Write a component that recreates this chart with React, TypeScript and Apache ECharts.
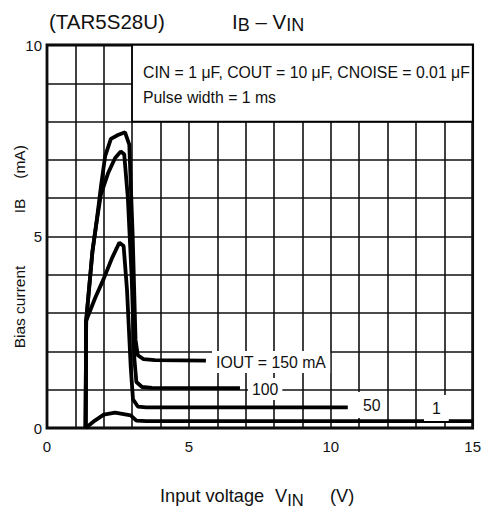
import React, { useEffect, useRef } from "react";
import * as echarts from "echarts";

// Input voltage VIN (V) vs bias current IB (mA)
const iout150: number[][] = [
  [1.36, 0], [1.38, 2.8], [1.6, 4.6], [1.75, 5.4], [1.9, 6.3], [2.05, 7.1],
  [2.25, 7.55], [2.5, 7.65], [2.75, 7.72], [2.9, 7.4], [3.02, 5.0],
  [3.12, 2.3], [3.2, 1.9], [3.4, 1.8], [3.8, 1.77], [5.6, 1.76],
];
const iout100: number[][] = [
  [1.36, 0], [1.38, 2.8], [1.6, 4.6], [1.75, 5.4], [1.9, 6.1], [2.15, 6.65],
  [2.4, 7.05], [2.6, 7.22], [2.72, 7.15], [2.85, 6.0], [2.98, 4.0],
  [3.08, 1.8], [3.15, 1.2], [3.35, 1.07], [3.7, 1.05], [6.8, 1.04],
];
const iout50: number[][] = [
  [1.36, 0], [1.38, 2.8], [1.7, 3.4], [2.0, 3.9], [2.3, 4.45], [2.55, 4.84],
  [2.7, 4.75], [2.82, 3.6], [2.95, 1.6], [3.03, 0.75], [3.2, 0.56],
  [3.5, 0.54], [10.6, 0.54],
];
const iout1: number[][] = [
  [1.36, 0], [1.7, 0.2], [2.0, 0.35], [2.4, 0.4], [2.95, 0.33], [3.15, 0.19],
  [3.5, 0.18], [15, 0.18],
];

const xTicks = [0, 5, 10, 15];
const yTicks = [0, 5, 10];
const noteBox = [[3, 8], [15, 10]];

const FONT = "'Liberation Sans', Arial, Helvetica, sans-serif";

export default function App() {
  const ref = useRef<HTMLDivElement>(null);
  useEffect(() => {
    if (!ref.current) return;
    const chart = echarts.init(ref.current, undefined, { renderer: "svg" });
    const lineStyle = { color: "#000", width: 3.8 };
    const mk = (data: number[][], extra: any = {}) => ({
      type: "line",
      data,
      symbol: "none",
      lineStyle,
      silent: true,
      z: 3,
      ...extra,
    });
    const vText = (text: string, y: number) => ({
      type: "text", x: 19, y, rotation: Math.PI / 2, z: 10,
      style: {
        text, font: `15.5px ${FONT}`, fill: "#111",
        align: "center", verticalAlign: "middle",
      },
    });
    chart.setOption({
      animation: false,
      backgroundColor: "#fff",
      textStyle: { fontFamily: FONT },
      grid: {
        left: 47, right: 10, top: 45, bottom: 85,
        show: true, borderColor: "#000", borderWidth: 2.8,
      },
      xAxis: {
        type: "value", min: 0, max: 15, interval: 1,
        axisLine: { show: false }, axisTick: { show: false },
        splitLine: { show: true, lineStyle: { color: "#111", width: 1.6 } },
        axisLabel: {
          margin: 11, fontSize: 15, color: "#111", fontFamily: FONT,
          formatter: (v: number) => (xTicks.includes(v) ? String(v) : ""),
        },
      },
      yAxis: {
        type: "value", min: 0, max: 10, interval: 1,
        axisLine: { show: false }, axisTick: { show: false },
        splitLine: { show: true, lineStyle: { color: "#111", width: 1.6 } },
        axisLabel: {
          margin: 5, fontSize: 15, color: "#111", fontFamily: FONT,
          formatter: (v: number) => (yTicks.includes(v) ? String(v) : ""),
        },
      },
      series: [
        mk(iout1, {
          markArea: {
            silent: true,
            label: { show: false },
            itemStyle: { color: "#fff", borderColor: "#000", borderWidth: 1.6 },
            data: [[{ coord: noteBox[0] }, { coord: noteBox[1] }]],
          },
        }),
        mk(iout50),
        mk(iout100),
        mk(iout150),
      ],
      graphic: [
        {
          type: "text", left: 49, top: 11, z: 10,
          style: { text: "(TAR5S28U)", font: `20.5px ${FONT}`, fill: "#111" },
        },
        {
          type: "text", left: 232, top: 11, z: 10,
          style: {
            text: "I{s|B} – V{s|IN}",
            font: `20.5px ${FONT}`, fill: "#111",
            rich: { s: { fontSize: 18, fontFamily: FONT, padding: [7, 0, 0, 0] } },
          },
        },
        {
          type: "text", x: 143, y: 72, z: 10,
          style: {
            text: "CIN = 1 μF, COUT = 10 μF, CNOISE = 0.01 μF",
            font: `15.8px ${FONT}`, fill: "#111", verticalAlign: "middle",
          },
        },
        {
          type: "text", x: 143, y: 97, z: 10,
          style: {
            text: "Pulse width = 1 ms",
            font: `15.8px ${FONT}`, fill: "#111", verticalAlign: "middle",
          },
        },
        {
          type: "text", x: 212, y: 362, z: 10,
          style: {
            text: "IOUT = 150 mA", font: `15.8px ${FONT}`, fill: "#111",
            verticalAlign: "middle", backgroundColor: "#fff", padding: [3, 4],
          },
        },
        {
          type: "text", x: 248, y: 389, z: 10,
          style: {
            text: "100", font: `15.8px ${FONT}`, fill: "#111",
            verticalAlign: "middle", backgroundColor: "#fff", padding: [3, 4],
          },
        },
        {
          type: "text", x: 358, y: 405, z: 10,
          style: {
            text: "50", font: `15.8px ${FONT}`, fill: "#111",
            verticalAlign: "middle", backgroundColor: "#fff", padding: [5, 5],
          },
        },
        {
          type: "text", x: 424, y: 408, z: 10,
          style: {
            text: "1", font: `15.8px ${FONT}`, fill: "#111",
            verticalAlign: "middle", backgroundColor: "#fff", padding: [5, 8],
          },
        },
        vText("Bias current", 307),
        vText("IB", 206),
        vText("(mA)", 162),
        {
          type: "text", x: 160, y: 496, z: 10,
          style: {
            text: "Input voltage", font: `18.2px ${FONT}`, fill: "#111",
            align: "left", verticalAlign: "middle",
          },
        },
        {
          type: "text", x: 275, y: 496, z: 10,
          style: {
            text: "V{s|IN}", font: `18.2px ${FONT}`, fill: "#111",
            align: "left", verticalAlign: "middle",
            rich: { s: { fontSize: 16.5, fontFamily: FONT, padding: [7, 0, 0, 0] } },
          },
        },
        {
          type: "text", x: 330, y: 496, z: 10,
          style: {
            text: "(V)", font: `18.2px ${FONT}`, fill: "#111",
            align: "left", verticalAlign: "middle",
          },
        },
      ],
    });
    return () => chart.dispose();
  }, []);
  return (
    <div
      ref={ref}
      style={{ position: "absolute", left: 0, top: 0, width: 484, height: 513 }}
    />
  );
}
